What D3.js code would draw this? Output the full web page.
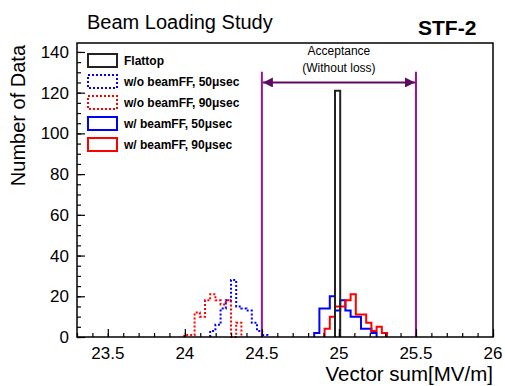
<!DOCTYPE html>
<html>
<head>
<meta charset="utf-8">
<script src="https://cdn.jsdelivr.net/npm/d3@7"></script>
<style>
  body { margin: 0; background: #fff; }
  text { font-family: "Liberation Sans", Arial, sans-serif; }
</style>
</head>
<body>
<div id="chart"></div>
<script>
// histogram binning (MV/m)
const binOrigin = 23.287;
const binWidth = 0.03375;

const seriesNames = ['Flattop', 'w/o beamFF, 50\u03bcsec', 'w/o beamFF, 90\u03bcsec', 'w/ beamFF, 50\u03bcsec', 'w/ beamFF, 90\u03bcsec'];

// first bin index and counts per bin
const flattopFirst = 50;
const flattopCounts = [121];
const noFF50First = 26;
const noFF50Counts = [3, 6, 14, 18, 28, 15, 14, 13, 7, 3, 1];
const noFF90First = 21;
const noFF90Counts = [1, 1, 12, 10, 18, 21, 18, 16, 18, 0, 7];
const ff50First = 46;
const ff50Counts = [2, 14, 14, 20, 13, 18, 13, 10, 10, 4, 4, 2];
const ff90First = 48;
const ff90Counts = [4, 10, 15, 15, 18, 21, 11, 11, 7, 3, 5, 2];

const xDomain = [23.3, 26.0];
const yDomain = [0, 144.4];
const xTickValues = [23.5, 24, 24.5, 25, 25.5, 26];
const yTickValues = [0, 20, 40, 60, 80, 100, 120, 140];
const acceptance = [24.5, 25.5];

const width = 505, height = 386;
const margin = {top: 43, right: 12, bottom: 49, left: 77};
const plotW = width - margin.left - margin.right;
const plotH = height - margin.top - margin.bottom;

const svg = d3.select('#chart').append('svg')
    .attr('width', width)
    .attr('height', height);

const xScale = d3.scaleLinear().domain(xDomain).range([0, plotW]);
const yScale = d3.scaleLinear().domain(yDomain).range([plotH, 0]);

const plot = svg.append('g')
    .attr('transform', `translate(${margin.left},${margin.top})`);

// histograms, drawn as step outlines
const series = [
    {first: noFF50First, counts: noFF50Counts, color: '#0000ff', dash: '2,2'},
    {first: noFF90First, counts: noFF90Counts, color: '#ff0000', dash: '2,2'},
    {first: ff50First, counts: ff50Counts, color: '#0000ff', dash: null},
    {first: ff90First, counts: ff90Counts, color: '#ff0000', dash: null},
    {first: flattopFirst, counts: flattopCounts, color: '#222222', dash: null}
];

const step = d3.line()
    .curve(d3.curveStepAfter)
    .x(d => xScale(d[0]))
    .y(d => yScale(d[1]));

series.forEach(s => {
    const edge = i => binOrigin + (s.first + i) * binWidth;
    let pts = [[edge(0), 0]];
    s.counts.forEach((c, i) => pts.push([edge(i), c]));
    pts.push([edge(s.counts.length), 0]);
    plot.append('path')
        .datum(pts)
        .attr('d', step)
        .attr('fill', 'none')
        .attr('stroke', s.color)
        .attr('stroke-width', 2)
        .attr('stroke-dasharray', s.dash);
});

// acceptance window
plot.selectAll('.acc')
    .data(acceptance)
    .enter()
    .append('line')
    .attr('class', 'acc')
    .attr('x1', d => xScale(d))
    .attr('x2', d => xScale(d))
    .attr('y1', yScale(130.3))
    .attr('y2', plotH)
    .attr('stroke', '#9a109a')
    .attr('stroke-width', 2);

const defs = svg.append('defs');
defs.append('marker')
    .attr('id', 'ahead')
    .attr('viewBox', '0 0 10 10')
    .attr('refX', 10).attr('refY', 5)
    .attr('markerWidth', 5).attr('markerHeight', 5)
    .attr('markerUnits', 'strokeWidth')
    .attr('orient', 'auto-start-reverse')
    .append('path')
    .attr('d', 'M0,0L10,5L0,10Z')
    .attr('fill', '#5e0a5e');

const arrowY = yScale(125);
plot.append('line')
    .attr('x1', xScale(acceptance[0]) + 1)
    .attr('x2', xScale(acceptance[1]) - 1)
    .attr('y1', arrowY)
    .attr('y2', arrowY)
    .attr('stroke', '#5e0a5e')
    .attr('stroke-width', 2)
    .attr('marker-start', 'url(#ahead)')
    .attr('marker-end', 'url(#ahead)');

const accMid = (acceptance[0] + acceptance[1]) / 2;
plot.append('text')
    .attr('x', xScale(accMid))
    .attr('y', yScale(138.5))
    .attr('text-anchor', 'middle')
    .style('font-size', '12px')
    .text('Acceptance');
plot.append('text')
    .attr('x', xScale(accMid))
    .attr('y', yScale(130.3))
    .attr('text-anchor', 'middle')
    .style('font-size', '12px')
    .text('(Without loss)');

// axes: ticks point inwards
plot.append('g')
    .attr('transform', `translate(0,${plotH})`)
    .call(d3.axisTop(xScale).tickValues(d3.range(23.3, 26.001, 0.1)).tickSize(4).tickFormat(''))
    .call(g => g.select('.domain').remove());
plot.append('g')
    .attr('transform', `translate(0,${plotH})`)
    .call(d3.axisTop(xScale).tickValues(xTickValues).tickSize(8).tickFormat(''))
    .call(g => g.select('.domain').remove());

plot.append('g')
    .call(d3.axisRight(yScale).tickValues(d3.range(0, 144, 5)).tickSize(4).tickFormat(''))
    .call(g => g.select('.domain').remove());
plot.append('g')
    .call(d3.axisRight(yScale).tickValues(yTickValues).tickSize(8).tickFormat(''))
    .call(g => g.select('.domain').remove());

plot.selectAll('.tick line').attr('stroke', '#000').attr('stroke-width', 1.2);

plot.selectAll('.xlab')
    .data(xTickValues)
    .enter()
    .append('text')
    .attr('class', 'xlab')
    .attr('x', d => xScale(d))
    .attr('y', plotH + 22)
    .attr('text-anchor', 'middle')
    .style('font-size', '17px')
    .text(d => d);

plot.selectAll('.ylab')
    .data(yTickValues)
    .enter()
    .append('text')
    .attr('class', 'ylab')
    .attr('x', -8)
    .attr('y', d => yScale(d))
    .attr('dy', '0.35em')
    .attr('text-anchor', 'end')
    .style('font-size', '17px')
    .text(d => d);

// frame
plot.append('rect')
    .attr('width', plotW)
    .attr('height', plotH)
    .attr('fill', 'none')
    .attr('stroke', '#000')
    .attr('stroke-width', 1.5);

// axis titles
svg.append('text')
    .attr('x', margin.left + plotW)
    .attr('y', 381)
    .attr('text-anchor', 'end')
    .style('font-size', '20.5px')
    .text('Vector sum[MV/m]');

svg.append('text')
    .attr('transform', `translate(25,${margin.top + 2}) rotate(-90)`)
    .attr('text-anchor', 'end')
    .style('font-size', '20px')
    .text('Number of Data');

// titles
svg.append('text')
    .attr('x', 87)
    .attr('y', 29)
    .style('font-size', '20px')
    .text('Beam Loading Study');
svg.append('text')
    .attr('x', 418)
    .attr('y', 35)
    .style('font-size', '21px')
    .style('font-weight', 'bold')
    .text('STF-2');

// legend
const legendStyles = [
    {color: '#222222', dash: null},
    {color: '#0000ff', dash: '2,2'},
    {color: '#ff0000', dash: '2,2'},
    {color: '#0000ff', dash: null},
    {color: '#ff0000', dash: null}
];
const legend = svg.append('g').attr('transform', 'translate(88,54)');
seriesNames.forEach((name, i) => {
    const row = legend.append('g').attr('transform', `translate(0,${i * 21})`);
    row.append('rect')
        .attr('width', 29)
        .attr('height', 13)
        .attr('fill', 'none')
        .attr('stroke', legendStyles[i].color)
        .attr('stroke-width', 2)
        .attr('stroke-dasharray', legendStyles[i].dash);
    row.append('text')
        .attr('x', 36)
        .attr('y', 11)
        .style('font-size', '12px')
        .style('font-weight', 'bold')
        .text(name);
});
</script>
</body>
</html>
